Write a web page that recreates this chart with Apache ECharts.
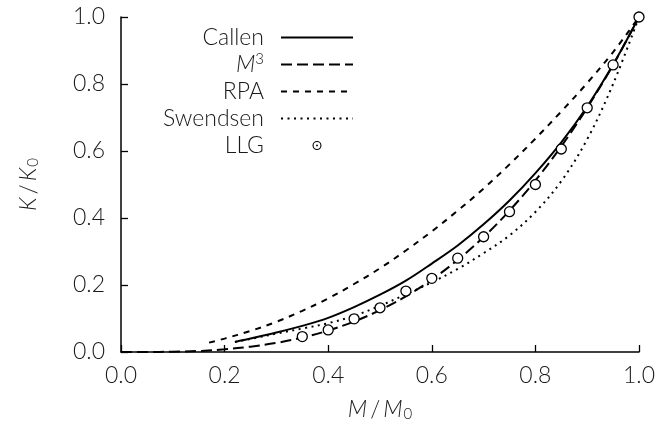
<!DOCTYPE html>
<html>
<head>
<meta charset="utf-8">
<script src="https://cdn.jsdelivr.net/npm/echarts@6/dist/echarts.min.js"></script>
<style>
html,body{margin:0;padding:0;background:#fff;}
#chart{width:659px;height:437px;}
</style>
</head>
<body>
<div id="chart"></div>
<script>
// ---- data ----
const xTicks = [0.0, 0.2, 0.4, 0.6, 0.8, 1.0];
const yTicks = [0.0, 0.2, 0.4, 0.6, 0.8, 1.0];

const callenX = [0.22,0.25,0.30,0.35,0.40,0.45,0.50,0.55,0.60,0.65,0.70,0.75,0.80,0.85,0.90,0.95,1.00];
const callenY = [0.030,0.040,0.058,0.078,0.102,0.134,0.171,0.213,0.264,0.318,0.381,0.452,0.534,0.626,0.733,0.858,1.000];

const m3X = [0.00,0.05,0.10,0.15,0.20,0.25,0.30,0.35,0.40,0.45,0.50,0.55,0.60,0.65,0.70,0.75,0.80,0.85,0.90,0.95,1.00];
const m3Y = [0.000,0.000,0.001,0.003,0.008,0.016,0.027,0.043,0.064,0.091,0.125,0.166,0.216,0.275,0.343,0.422,0.512,0.614,0.729,0.857,1.000];

const rpaX = [0.17,0.20,0.25,0.30,0.35,0.40,0.45,0.50,0.55,0.60,0.65,0.70,0.75,0.80,0.85,0.90,0.95,1.00];
const rpaY = [0.028,0.040,0.063,0.090,0.123,0.160,0.203,0.250,0.303,0.360,0.422,0.488,0.560,0.637,0.718,0.803,0.895,1.000];

const swX = [0.22,0.25,0.30,0.35,0.40,0.45,0.50,0.55,0.60,0.65,0.70,0.75,0.80,0.85,0.90,0.95,1.00];
const swY = [0.030,0.039,0.055,0.070,0.086,0.108,0.138,0.172,0.208,0.248,0.295,0.348,0.418,0.510,0.635,0.800,1.000];

const llgX = [0.35,0.40,0.45,0.50,0.55,0.60,0.65,0.70,0.75,0.80,0.85,0.90,0.95,1.00];
const llgY = [0.046,0.066,0.099,0.132,0.182,0.220,0.280,0.344,0.419,0.500,0.606,0.729,0.857,1.000];

const seriesNames = ['Callen', 'M3', 'RPA', 'Swendsen', 'LLG'];

// ---- build ----
const zip = (xs, ys) => xs.map((x, i) => [x, ys[i]]);
const FONT = 'Lato';
const FW = 300;
const TXT = '#1a1a1a';
const FS = 23;

const chart = echarts.init(document.getElementById('chart'), null, {renderer: 'canvas'});

const lineSeries = (name, xs, ys, dash) => ({
  name: name,
  type: 'line',
  data: zip(xs, ys),
  smooth: 0.35,
  symbol: 'none',
  showSymbol: false,
  lineStyle: {color: '#000', width: 2, type: dash, cap: 'butt'},
  itemStyle: {color: '#000'},
  emphasis: {disabled: true},
  animation: false,
  z: 2
});

const nameRich = {
  it: {fontFamily: FONT, fontWeight: FW, fontSize: 23, fontStyle: 'italic', color: TXT},
  n: {fontFamily: FONT, fontWeight: FW, fontSize: 23, color: TXT, padding: [0, 3, 0, 3]},
  sub: {fontFamily: FONT, fontWeight: FW, fontSize: 15, color: TXT, verticalAlign: 'bottom', padding: [9, 0, 0, 1]}
};

const option = {
  animation: false,
  backgroundColor: '#fff',
  grid: {left: 121, right: 20, top: 17, bottom: 85, containLabel: false},
  xAxis: {
    type: 'value', min: 0, max: 1, interval: 0.2,
    name: '{it|M}{n|/}{it|M}{sub|0}',
    nameLocation: 'middle', nameGap: 46,
    nameTextStyle: {rich: nameRich},
    axisLine: {show: true, lineStyle: {color: '#000', width: 1.5}},
    axisTick: {show: true, inside: true, length: 7, lineStyle: {color: '#000', width: 1.3}},
    axisLabel: {fontFamily: FONT, fontWeight: FW, fontSize: FS, color: TXT, margin: 12,
      formatter: v => Number(v).toFixed(1)},
    splitLine: {show: false}
  },
  yAxis: {
    type: 'value', min: 0, max: 1, interval: 0.2,
    name: '{it|K}{n|/}{it|K}{sub|0}',
    nameLocation: 'middle', nameGap: 80, nameRotate: 90,
    nameTextStyle: {rich: nameRich},
    axisLine: {show: true, lineStyle: {color: '#000', width: 1.5}},
    axisTick: {show: true, inside: true, length: 7, lineStyle: {color: '#000', width: 1.3}},
    axisLabel: {fontFamily: FONT, fontWeight: FW, fontSize: FS, color: TXT, margin: 16,
      formatter: v => Number(v).toFixed(1)},
    splitLine: {show: false}
  },
  legend: {
    orient: 'vertical',
    align: 'right',
    right: 305,
    top: 25,
    padding: 0,
    itemWidth: 72,
    itemHeight: 14,
    itemGap: 2,
    selectedMode: false,
    data: [
      {name: 'Callen', itemStyle: {opacity: 0}},
      {name: 'M3', itemStyle: {opacity: 0}},
      {name: 'RPA', itemStyle: {opacity: 0}},
      {name: 'Swendsen', itemStyle: {opacity: 0}},
      {name: 'LLG',
       icon: 'path://M-7,-7M7,7M0,-4.5A4.5,4.5 0 1,1 0,4.5A4.5,4.5 0 1,1 0,-4.5ZM0,-3.4A3.4,3.4 0 1,0 0,3.4A3.4,3.4 0 1,0 0,-3.4ZM0,-0.9A0.9,0.9 0 1,1 0,0.9A0.9,0.9 0 1,1 0,-0.9Z',
       itemStyle: {color: '#000', borderWidth: 0, opacity: 1}}
    ],
    formatter: name => name === 'M3' ? '{it|M}{sup|3}' : name,
    textStyle: {
      fontFamily: FONT, fontWeight: FW, fontSize: FS, color: TXT, lineHeight: 25, height: 25,
      padding: [0, 12, 0, 0],
      rich: {
        it: {fontFamily: FONT, fontWeight: FW, fontSize: FS, fontStyle: 'italic', color: TXT, lineHeight: 25},
        sup: {fontFamily: FONT, fontWeight: FW, fontSize: 15, color: TXT, verticalAlign: 'top', lineHeight: 25}
      }
    }
  },
  series: [
    lineSeries(seriesNames[0], callenX, callenY, 'solid'),
    lineSeries(seriesNames[1], m3X, m3Y, [11, 5]),
    lineSeries(seriesNames[2], rpaX, rpaY, [6, 6]),
    lineSeries(seriesNames[3], swX, swY, [2, 4.5]),
    {
      name: seriesNames[4],
      type: 'scatter',
      data: zip(llgX, llgY),
      symbol: 'circle',
      symbolSize: 10,
      itemStyle: {color: '#fff', borderColor: '#000', borderWidth: 1.3, opacity: 1},
      emphasis: {disabled: true},
      z: 5
    }
  ]
};
chart.setOption(option);
</script>
</body>
</html>
